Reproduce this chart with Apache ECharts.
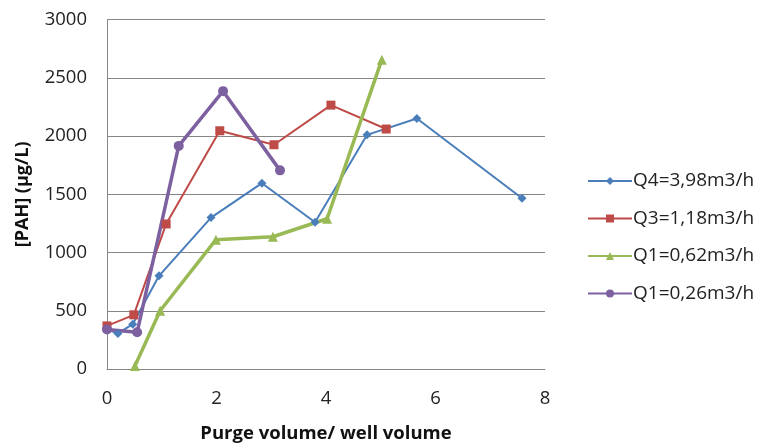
<!DOCTYPE html>
<html><head><meta charset="utf-8">
<script src="https://cdn.jsdelivr.net/npm/echarts@6/dist/echarts.min.js"></script>
<style>html,body{margin:0;padding:0;background:#fff}#c{width:762px;height:448px}</style>
</head><body><div id="c"></div>
<script>
const seriesNames = ['Q4=3,98m3/h', 'Q3=1,18m3/h', 'Q1=0,62m3/h', 'Q1=0,26m3/h'];
const q4 = [[0,340],[0.2,305],[0.47,385],[0.95,800],[1.9,1300],[2.83,1595],[3.8,1260],[4.75,2010],[5.66,2150],[7.58,1465]];
const q3 = [[0,370],[0.49,465],[1.08,1245],[2.06,2045],[3.05,1925],[4.09,2265],[5.1,2060]];
const q1a = [[0.51,25],[0.97,500],[1.99,1110],[3.03,1135],[4.02,1290],[5.02,2655]];
const q1b = [[0,340],[0.55,315],[1.31,1915],[2.12,2385],[3.16,1705]];
const xTicks = [0,2,4,6,8];
const yTicks = [0,500,1000,1500,2000,2500,3000];
const colors = ['#4A7EBB','#BE4B48','#98B954','#7D60A0'];
const font = 'Open Sans';
const chart = echarts.init(document.getElementById('c'));
chart.setOption({
  animation:false,
  grid:{left:107,right:217,top:19.5,bottom:77,containLabel:false},
  legend:{
    orient:'vertical', left:582, top:166, itemGap:17.5, itemWidth:44, itemHeight:10,
    data:seriesNames,
    textStyle:{fontFamily:font,fontSize:19,lineHeight:20,color:'#222',padding:[0,0,0,-4]}
  },
  xAxis:{
    type:'value', min:xTicks[0], max:xTicks[xTicks.length-1], interval:2,
    name:'Purge volume/ well volume', nameLocation:'middle', nameGap:55,
    nameTextStyle:{fontFamily:font,fontSize:18.5,fontWeight:'bold',color:'#111'},
    axisLine:{show:true,lineStyle:{color:'#868686',width:1}},
    axisTick:{show:false},
    axisLabel:{fontFamily:font,fontSize:18.5,color:'#222',margin:20,formatter:v=>String(v)},
    splitLine:{show:false}
  },
  yAxis:{
    type:'value', min:yTicks[0], max:yTicks[yTicks.length-1], interval:500,
    name:'[PAH] (µg/L)', nameLocation:'middle', nameGap:75, nameRotate:90,
    nameTextStyle:{fontFamily:font,fontSize:18,fontWeight:'bold',color:'#111'},
    axisLine:{show:true,lineStyle:{color:'#868686',width:1}},
    axisTick:{show:false},
    axisLabel:{fontFamily:font,fontSize:18.5,color:'#222',margin:20,formatter:v=>String(v)},
    splitLine:{show:true,lineStyle:{color:'#868686',width:1}}
  },
  series:[
    {name:seriesNames[0],type:'line',data:q4,symbol:'diamond',symbolSize:9,
     itemStyle:{color:colors[0]},lineStyle:{width:2,color:colors[0]}},
    {name:seriesNames[1],type:'line',data:q3,symbol:'rect',symbolSize:9,
     itemStyle:{color:colors[1]},lineStyle:{width:2,color:colors[1]}},
    {name:seriesNames[2],type:'line',data:q1a,symbol:'triangle',symbolSize:10,
     itemStyle:{color:colors[2]},lineStyle:{width:3.5,color:colors[2]}},
    {name:seriesNames[3],type:'line',data:q1b,symbol:'circle',symbolSize:10,
     itemStyle:{color:colors[3]},lineStyle:{width:3.5,color:colors[3]}}
  ]
});
</script></body></html>
